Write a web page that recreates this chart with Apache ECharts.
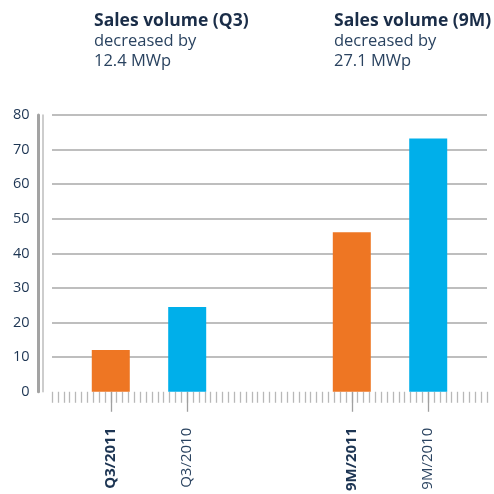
<!DOCTYPE html>
<html>
<head>
<meta charset="utf-8">
<script src="https://cdn.jsdelivr.net/npm/echarts@6/dist/echarts.min.js"></script>
<style>
  html, body { margin: 0; padding: 0; background: #fff; }
  #main { width: 494px; height: 494px; }
</style>
</head>
<body>
<div id="main"></div>
<script>
// data
var categories = ["Q3/2011", "Q3/2010", "9M/2011", "9M/2010"];
var boldLabel = [true, false, true, false];
var values2011 = [12.1, null, 46.1, null];
var values2010 = [null, 24.5, null, 73.2];
var yTicks = [0, 10, 20, 30, 40, 50, 60, 70, 80];

// layout: the x axis is a row of 75 small tick slots, the bars sit on some of them
var slotCount = 75;
var slotOf = [10, 23, 51, 64];

var navy = "#1d3553";
var slots = [];
var labelAt = {};
for (var i = 0; i < slotCount; i++) slots.push("s" + i);
categories.forEach(function (c, k) { labelAt[slotOf[k]] = k; });

function pairs(vals) {
  var out = [];
  vals.forEach(function (v, k) {
    if (v != null) out.push([slotOf[k], v]);
  });
  return out;
}

var chartDom = document.getElementById("main");
var myChart = echarts.init(chartDom);
var option;

var titleRich = {
  b: { fontFamily: "Open Sans", fontWeight: "bold", fontSize: 17.5, color: "#1a2d48", lineHeight: 20 },
  n: { fontFamily: "Open Sans", fontWeight: "normal", fontSize: 16.5, color: "#2a4360", lineHeight: 20 }
};

option = {
  animation: false,
  title: [
    {
      left: 89, top: 6,
      text: "{b|Sales volume (Q3)}\n{n|decreased by}\n{n|12.4 MWp}",
      textStyle: { fontWeight: "normal", rich: titleRich }
    },
    {
      left: 329, top: 6,
      text: "{b|Sales volume (9M)}\n{n|decreased by}\n{n|27.1 MWp}",
      textStyle: { fontWeight: "normal", rich: titleRich }
    }
  ],
  grid: { left: 52, right: 7, top: 115, bottom: 102 },
  xAxis: [
    {
      type: "category",
      data: slots,
      boundaryGap: false,
      axisLine: { show: false },
      axisTick: { show: true, interval: 0, length: 11, lineStyle: { color: "#b8b8b8", width: 1.3 } },
      axisLabel: { show: false },
      splitLine: { show: false }
    },
    {
      type: "category",
      data: slots,
      boundaryGap: false,
      position: "bottom",
      axisLine: { show: false },
      axisTick: {
        show: true,
        length: 20,
        interval: function (idx) { return labelAt[idx] != null; },
        lineStyle: { color: "#a0a0a0", width: 1.3 }
      },
      axisLabel: {
        show: true,
        rotate: 90,
        margin: 36,
        interval: function (idx) { return labelAt[idx] != null; },
        formatter: function (val, idx) {
          var k = labelAt[idx];
          if (k == null) return "";
          return boldLabel[k] ? "{b|" + categories[k] + "}" : "{n|" + categories[k] + "}";
        },
        rich: {
          b: { fontFamily: "Open Sans", fontWeight: "bold", fontSize: 15, color: navy },
          n: { fontFamily: "Open Sans", fontWeight: "normal", fontSize: 15, color: "#2a4360" }
        }
      }
    }
  ],
  yAxis: [
    {
      type: "value",
      position: "left",
      min: 0,
      max: 80,
      interval: 10,
      offset: 13.5,
      axisLine: { show: true, lineStyle: { color: "#a3a3a3", width: 3 } },
      axisTick: { show: false },
      axisLabel: {
        margin: 9,
        fontFamily: "Open Sans",
        fontSize: 14.5,
        color: navy,
        formatter: function (v) { return yTicks.indexOf(v) >= 0 ? String(v) : ""; }
      },
      splitLine: {
        show: true,
        lineStyle: {
          color: ["rgba(0,0,0,0)", "#a9a9a9", "#a9a9a9", "#a9a9a9", "#a9a9a9", "#a9a9a9", "#a9a9a9", "#a9a9a9", "#a9a9a9"],
          width: 1.5
        }
      }
    },
    {
      type: "value",
      position: "left",
      min: 0,
      max: 80,
      interval: 10,
      offset: 9.3,
      axisLine: { show: true, lineStyle: { color: "#bdbdbd", width: 1.5 } },
      axisTick: { show: false },
      axisLabel: { show: false },
      splitLine: { show: false }
    }
  ],
  series: [
    {
      name: "2011",
      type: "bar",
      xAxisIndex: 0,
      yAxisIndex: 0,
      barWidth: 38,
      barGap: "-100%",
      itemStyle: { color: "#ee7623" },
      data: pairs(values2011)
    },
    {
      name: "2010",
      type: "bar",
      xAxisIndex: 0,
      yAxisIndex: 0,
      barWidth: 38,
      barGap: "-100%",
      itemStyle: { color: "#00afea" },
      data: pairs(values2010)
    }
  ]
};

option && myChart.setOption(option);
</script>
</body>
</html>
